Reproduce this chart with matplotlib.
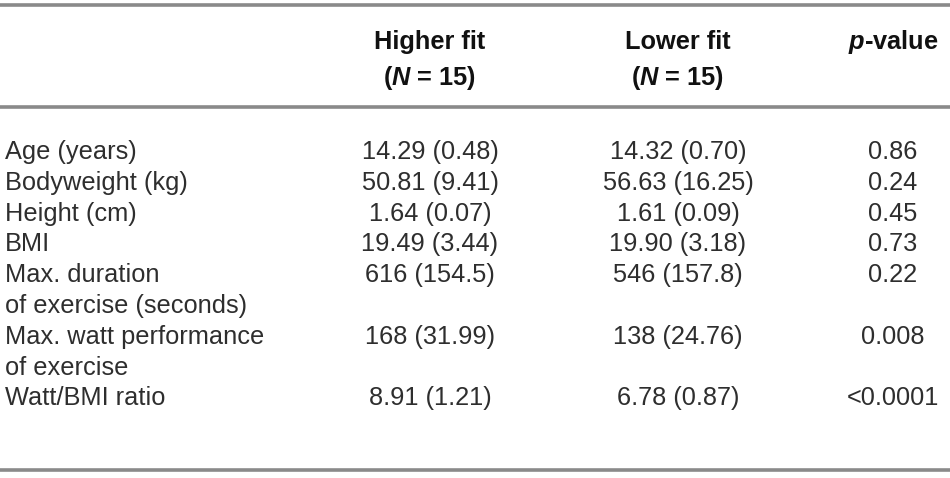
import matplotlib.pyplot as plt

# table content
labels = ["Age (years)", "Bodyweight (kg)", "Height (cm)", "BMI",
          "Max. duration\nof exercise (seconds)",
          "Max. watt performance\nof exercise", "Watt/BMI ratio"]
higher_fit = ["14.29 (0.48)", "50.81 (9.41)", "1.64 (0.07)", "19.49 (3.44)",
              "616 (154.5)", "168 (31.99)", "8.91 (1.21)"]
lower_fit = ["14.32 (0.70)", "56.63 (16.25)", "1.61 (0.09)", "19.90 (3.18)",
             "546 (157.8)", "138 (24.76)", "6.78 (0.87)"]
p_values = ["0.86", "0.24", "0.45", "0.73", "0.22", "0.008", "<0.0001"]

plt.rcParams["mathtext.fontset"] = "custom"
plt.rcParams["mathtext.it"] = "Liberation Sans:bold:italic"
plt.rcParams["mathtext.rm"] = "Liberation Sans:bold"

fig = plt.figure(figsize=(9.5, 4.78), dpi=100)
ax = fig.add_axes([0, 0, 1, 1])
ax.set_xlim(0, 950)
ax.set_ylim(478, 0)
ax.axis("off")

fam = ["Liberation Sans", "DejaVu Sans"]
body = dict(fontsize=18.3, color="#2e2e2e", family=fam, va="center")
head = dict(fontsize=18.3, color="#111111", family=fam,
            fontweight="bold", va="center", ha="center")

col_x = [430, 678, 893]

# rules
for y in (5, 107, 470):
    ax.axhline(y, color="#8a8a8a", lw=2.6)

# header
ax.text(col_x[0], 42, "Higher fit", **head)
ax.text(col_x[0], 78, "($\\mathit{N}$ = 15)", **head)
ax.text(col_x[1], 42, "Lower fit", **head)
ax.text(col_x[1], 78, "($\\mathit{N}$ = 15)", **head)
ax.text(col_x[2], 42, "$\\mathit{p}$-value", **head)

line_h = 30.8
y = 152
for lab, h, l, p in zip(labels, higher_fit, lower_fit, p_values):
    lines = lab.split("\n")
    for k, part in enumerate(lines):
        ax.text(5, y + k * line_h, part, ha="left", **body)
    ax.text(col_x[0], y, h, ha="center", **body)
    ax.text(col_x[1], y, l, ha="center", **body)
    ax.text(col_x[2], y, p, ha="center", **body)
    y += line_h * len(lines)

fig.savefig("out.png", dpi=100)
